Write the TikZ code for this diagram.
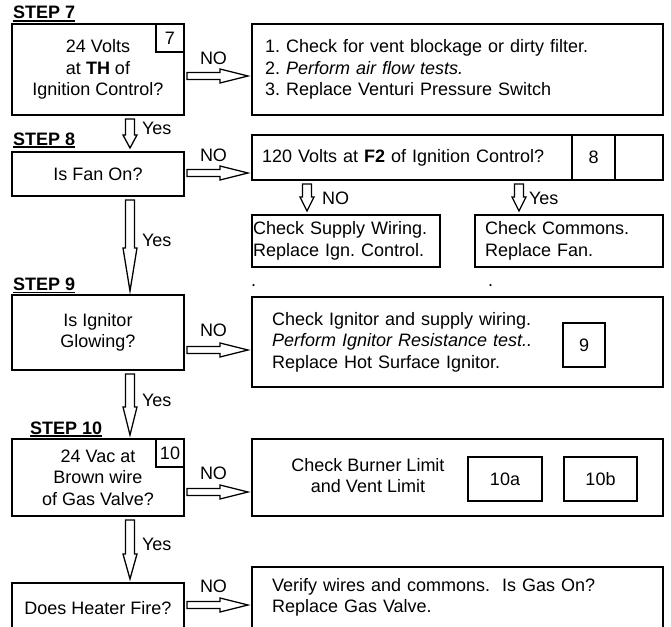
\documentclass[tikz,border=0pt]{standalone}
\usepackage{fontspec}
\setmainfont{Liberation Sans}
\usetikzlibrary{calc}
\frenchspacing

% underlined step heading
\newcommand{\stepul}[1]{\setbox0=\hbox{#1}\rlap{\rule[-2.6pt]{\wd0}{1.3pt}}\box0}

% hollow block arrow to the right: from node #1 to node #2 at height #3
\newcommand{\blockright}[3]{%
  \path (#1.east |- 0,#3) ++(3,0) coordinate (bt);
  \path (#2.west |- 0,#3) ++(-4,0) coordinate (bh);
  \draw[blockarrow] ($(bt)+(0,-3.5)$) -- ($(bh)+(-28,-3.5)$) -- ($(bh)+(-28,-7)$) -- (bh)
    -- ($(bh)+(-28,7)$) -- ($(bh)+(-28,3.5)$) -- ($(bt)+(0,3.5)$) -- cycle;
}

% hollow block arrow downwards: from node #1 to node #2 at x #3, head length #4
\newcommand{\blockdown}[4]{%
  \path (#3,0 |- #1.south) ++(0,4) coordinate (bt);
  \path (#3,0 |- #2.north) ++(0,-4) coordinate (bh);
  \draw[blockarrow] ($(bt)+(-4.5,0)$) -- ($(bh)+(-4.5,-#4)$) -- ($(bh)+(-7,-#4)$) -- (bh)
    -- ($(bh)+(7,-#4)$) -- ($(bh)+(4.5,-#4)$) -- ($(bt)+(4.5,0)$) -- cycle;
}

\begin{document}
\frenchspacing
\begin{tikzpicture}[x=1pt, y=-1pt,
                    every node/.style={font=\fontsize{18}{21.5}\selectfont, inner sep=0pt, outer sep=0pt},
                    box/.style={shape=rectangle, draw=black, line width=1.4pt, align=center},
                    leftbox/.style={box, align=left},
                    steplabel/.style={anchor=base west, font=\fontsize{18}{21.5}\selectfont\bfseries},
                    answer/.style={anchor=west},
                    blockarrow/.style={draw=black, line width=1.3pt, fill=white}]

                    \useasboundingbox (0,0) rectangle (671,626);

                    % Step 7
                    \node[steplabel] (st7) at (13,19) {\stepul{STEP 7}};
                    \node[box, minimum width=172, minimum height=91] (q7) at (98,69.5) {24 Volts\\at \textbf{TH} of\\Ignition Control?};
                    \node[box, anchor=north east, minimum width=28, minimum height=28] (n7) at (q7.north east) {7};
                    \node[leftbox, minimum height=91, text width=385, inner xsep=13] (a7) at (457.5,69.5) {1. Check for vent blockage or dirty filter.\\2. \textit{Perform air flow tests.}\\3. Replace Venturi Pressure Switch};

                    % Step 8
                    \node[steplabel] (st8) at (13,145) {\stepul{STEP 8}};
                    \node[box, minimum width=172, minimum height=44] (q8) at (98,174) {Is Fan On?};
                    \node[leftbox, minimum height=45, text width=391, inner xsep=10] (a8) at (457.5,157.5) {120 Volts at \textbf{F2} of Ignition Control?};
                    \node[box, anchor=north east, minimum width=48, minimum height=45] (n8b) at (a8.north east) {};
                    \node[box, anchor=north east, minimum width=43, minimum height=45] (n8) at (n8b.north west) {8};
                    \node[leftbox, minimum height=52, text width=186, inner xsep=1] (f8a) at (346,241) {Check Supply Wiring.\\Replace Ign. Control.};
                    \node[leftbox, minimum height=52, text width=168, inner xsep=10] (f8b) at (569,241) {Check Commons.\\Replace Fan.};
                    \node[anchor=base west] (dot1) at (251,286) {.}; % stray dots
                    \node[anchor=base west] (dot2) at (488,286) {.};

                    % Step 9
                    \node[steplabel] (st9) at (13,290.5) {\stepul{STEP 9}};
                    \node[box, minimum width=172, minimum height=75] (q9) at (98,332.5) {Is Ignitor\\Glowing?};
                    \node[leftbox, minimum height=90, text width=371, inner xsep=20] (a9) at (457.5,342) {Check Ignitor and supply wiring.\\\textit{Perform Ignitor Resistance test..}\\Replace Hot Surface Ignitor.};
                    \node[box, minimum width=42, minimum height=44] (n9) at (584,345) {9};

                    % Step 10
                    \node[steplabel] (st10) at (30,434) {\stepul{STEP 10}};
                    \node[box, minimum width=172, minimum height=77] (q10) at (98,477.5) {24 Vac at\\Brown wire\\of Gas Valve?};
                    \node[box, anchor=north east, minimum width=28, minimum height=28] (n10) at (q10.north east) {10};
                    \node[box, minimum width=411, minimum height=77] (a10) at (457.5,477.5) {};
                    \node[align=center] (lim) at (368,475.5) {Check Burner Limit\\and Vent Limit};
                    \node[box, minimum width=74, minimum height=44] (n10a) at (505,479) {10a};
                    \node[box, minimum width=73, minimum height=44] (n10b) at (600.5,479) {10b};

                    % Last question (cut off at the bottom)
                    \node[box, minimum width=172, minimum height=50, anchor=north] (q11) at (98,583) {Does Heater Fire?};
                    \node[leftbox, minimum height=61, text width=371, inner xsep=20, anchor=north] (a11) at (457.5,567) {Verify wires and commons.\ \ Is Gas On?\\Replace Gas Valve.};

                    % NO arrows
                    \blockright{q7}{a7}{76}
                    \blockright{q8}{a8}{173}
                    \blockright{q9}{a9}{350}
                    \blockright{q10}{a10}{492}
                    \blockright{q11}{a11}{605}
                    \node (no7) at (213.5,58) {NO};
                    \node (no8) at (213.5,155) {NO};
                    \node (no9) at (213.5,330) {NO};
                    \node (no10) at (213.5,473) {NO};
                    \node (no11) at (213.5,586) {NO};

                    % Yes arrows
                    \blockdown{q7}{q8}{130}{13}
                    \blockdown{q8}{q9}{130}{43}
                    \blockdown{q9}{q10}{130}{28}
                    \blockdown{q10}{q11}{130}{25}
                    \node[answer] (yes7) at (142,128) {Yes};
                    \node[answer] (yes8) at (142,240) {Yes};
                    \node[answer] (yes9) at (142,400) {Yes};
                    \node[answer] (yes10) at (142,544) {Yes};

                    % branches below the 120 Volts test
                    \blockdown{a8}{f8a}{307}{14}
                    \blockdown{a8}{f8b}{519}{14}
                    \node[answer] (no8a) at (322,198) {NO};
                    \node[answer] (yes8a) at (529,198) {Yes};
                \end{tikzpicture}
\end{document}
